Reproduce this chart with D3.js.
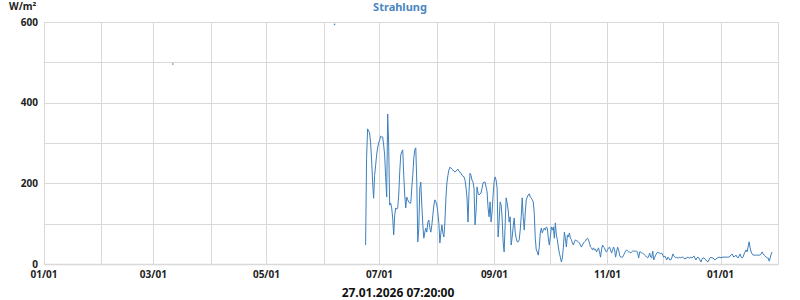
<!DOCTYPE html>
<html>
<head>
<meta charset="utf-8">
<style>
  body { margin: 0; background: #fff; }
  svg text { font-family: "Noto Sans", "Open Sans", sans-serif; }
</style>
</head>
<body>
<svg id="chart" width="800" height="300"></svg>
<script src="https://d3js.org/d3.v7.min.js"></script>
<script>
// data: one reading roughly every 13 hours
var title = 'Strahlung',
    unit = 'W/m²',
    stamp = '27.01.2026 07:20:00',
    domainStart = new Date(2025, 0, 1),
    domainEnd = new Date(2026, 1, 1),
    seriesStart = new Date(2025, 5, 23, 12),
    stepHours = 13

var yTicks = [0, 200, 400, 600],
    yGrid = [0, 100, 200, 300, 400, 500, 600]

var values = [
  47, 262, 335, 330, 325, 300, 258, 203, 163, 220, 245, 270, 288, 300, 307, 317, 315, 315, 295, 270,
  216, 166, 372, 295, 146, 151, 139, 114, 72, 121, 139, 136, 139, 171, 228, 270, 278, 283, 220, 171,
  139, 166, 159, 154, 151, 151, 188, 220, 262, 283, 288, 203, 55, 89, 188, 203, 146, 97, 64, 79,
  89, 79, 104, 109, 89, 79, 97, 121, 146, 159, 154, 146, 126, 100, 52, 77, 97, 77, 67, 104,
  164, 201, 220, 233, 240, 238, 235, 233, 230, 228, 230, 233, 235, 230, 228, 225, 220, 218, 216, 208,
  191, 164, 104, 179, 225, 220, 208, 203, 188, 97, 129, 191, 176, 171, 174, 176, 188, 201, 203, 203,
  191, 179, 139, 117, 154, 104, 129, 171, 203, 216, 208, 188, 67, 104, 154, 146, 114, 55, 30, 97,
  164, 151, 134, 104, 117, 47, 67, 92, 114, 79, 64, 55, 55, 60, 84, 117, 164, 117, 84, 126,
  159, 166, 171, 174, 166, 164, 159, 154, 126, 64, 35, 30, 22, 42, 77, 89, 77, 84, 89, 84,
  92, 89, 64, 47, 67, 92, 84, 92, 64, 102, 72, 60, 42, 27, 17, 5, 15, 42, 79, 64,
  42, 72, 67, 77, 64, 60, 52, 47, 55, 60, 57, 57, 55, 52, 47, 42, 47, 52, 55, 57,
  62, 64, 60, 52, 42, 40, 35, 40, 35, 37, 30, 35, 40, 30, 17, 35, 47, 42, 40, 32,
  30, 35, 40, 42, 35, 27, 35, 42, 35, 17, 30, 42, 35, 22, 17, 17, 17, 22, 27, 32,
  35, 32, 30, 30, 27, 30, 32, 32, 32, 32, 32, 27, 15, 30, 30, 27, 27, 25, 22, 20,
  17, 15, 20, 27, 17, 15, 32, 10, 17, 22, 27, 30, 27, 27, 25, 27, 22, 17, 20, 15,
  10, 17, 15, 10, 10, 15, 25, 20, 17, 15, 17, 15, 15, 17, 15, 17, 17, 15, 12, 15,
  15, 17, 15, 15, 17, 15, 17, 20, 15, 10, 15, 17, 15, 10, 5, 12, 15, 15, 12, 10,
  7, 5, 10, 15, 17, 15, 15, 12, 10, 12, 15, 15, 17, 17, 15, 17, 17, 17, 17, 17,
  17, 17, 17, 20, 22, 25, 20, 17, 20, 22, 17, 15, 20, 25, 17, 15, 17, 25, 30, 35,
  30, 42, 55, 40, 30, 25, 22, 22, 22, 22, 22, 22, 22, 22, 25, 30, 25, 22, 20, 17,
  15, 15, 7, 15, 25, 30
]

// two lone readings earlier in the year
var strayTimes = [new Date(2025, 2, 11, 12), new Date(2025, 5, 6, 18)],
    strayValues = [496, 594]

var margin = {top: 22, right: 22, bottom: 36, left: 44},
    width = 800, height = 300,
    lineColor = '#3d7fbd',
    gridColor = '#d9d9d9'

var svg = d3.select('#chart')

var x = d3.scaleTime()
  .domain([domainStart, domainEnd])
  .range([margin.left, width - margin.right])

var y = d3.scaleLinear()
  .domain([0, 600])
  .range([height - margin.bottom, margin.top])

var points = values.map((v, i) => ({t: d3.timeHour.offset(seriesStart, i * stepHours), v: v}))

// grid
svg.append('g')
  .selectAll('line')
  .data(d3.timeMonth.range(domainStart, d3.timeDay.offset(domainEnd, 1)))
  .enter().append('line')
  .attr('x1', d => Math.round(x(d)) + 0.5)
  .attr('x2', d => Math.round(x(d)) + 0.5)
  .attr('y1', y(600))
  .attr('y2', y(0))
  .attr('stroke', gridColor)
  .attr('stroke-width', 1)

svg.append('g')
  .selectAll('line')
  .data(yGrid)
  .enter().append('line')
  .attr('x1', x(domainStart))
  .attr('x2', x(domainEnd) + 1)
  .attr('y1', d => Math.round(y(d)) + 0.5)
  .attr('y2', d => Math.round(y(d)) + 0.5)
  .attr('stroke', gridColor)
  .attr('stroke-width', d => d == 0 ? 1.5 : 1)

// y labels
svg.append('g')
  .selectAll('text')
  .data(yTicks)
  .enter().append('text')
  .attr('x', margin.left - 6)
  .attr('y', d => y(d) + 1)
  .attr('text-anchor', 'end')
  .attr('dominant-baseline', 'middle')
  .attr('font-size', 10)
  .attr('font-weight', 'bold')
  .attr('fill', '#222')
  .text(d => d)

// x labels, every second month
svg.append('g')
  .selectAll('text')
  .data(d3.timeMonth.every(2).range(domainStart, domainEnd))
  .enter().append('text')
  .attr('x', d => x(d))
  .attr('y', y(0) + 14)
  .attr('text-anchor', 'middle')
  .attr('font-size', 10)
  .attr('font-weight', 'bold')
  .attr('fill', '#222')
  .text(d3.timeFormat('%m/%d'))

// series
var line = d3.line()
  .x(d => x(d.t))
  .y(d => y(d.v))

svg.append('path')
  .datum(points)
  .attr('d', line)
  .attr('fill', 'none')
  .attr('stroke', lineColor)
  .attr('stroke-width', 1)
  .attr('stroke-linejoin', 'miter')

svg.append('g')
  .selectAll('circle')
  .data(strayTimes)
  .enter().append('circle')
  .attr('cx', d => x(d))
  .attr('cy', (d, i) => y(strayValues[i]))
  .attr('r', 0.8)
  .attr('fill', lineColor)

// titles
svg.append('text')
  .attr('x', 400)
  .attr('y', 11)
  .attr('text-anchor', 'middle')
  .attr('font-size', 11)
  .attr('font-weight', 'bold')
  .attr('fill', '#4a86bf')
  .text(title)

svg.append('text')
  .attr('x', 9)
  .attr('y', 10)
  .attr('font-size', 10)
  .attr('font-weight', 'bold')
  .attr('fill', '#222')
  .text(unit)

svg.append('text')
  .attr('x', 398)
  .attr('y', 297)
  .attr('text-anchor', 'middle')
  .attr('font-size', 12)
  .attr('font-weight', 'bold')
  .attr('fill', '#111')
  .text(stamp)
</script>
</body>
</html>
